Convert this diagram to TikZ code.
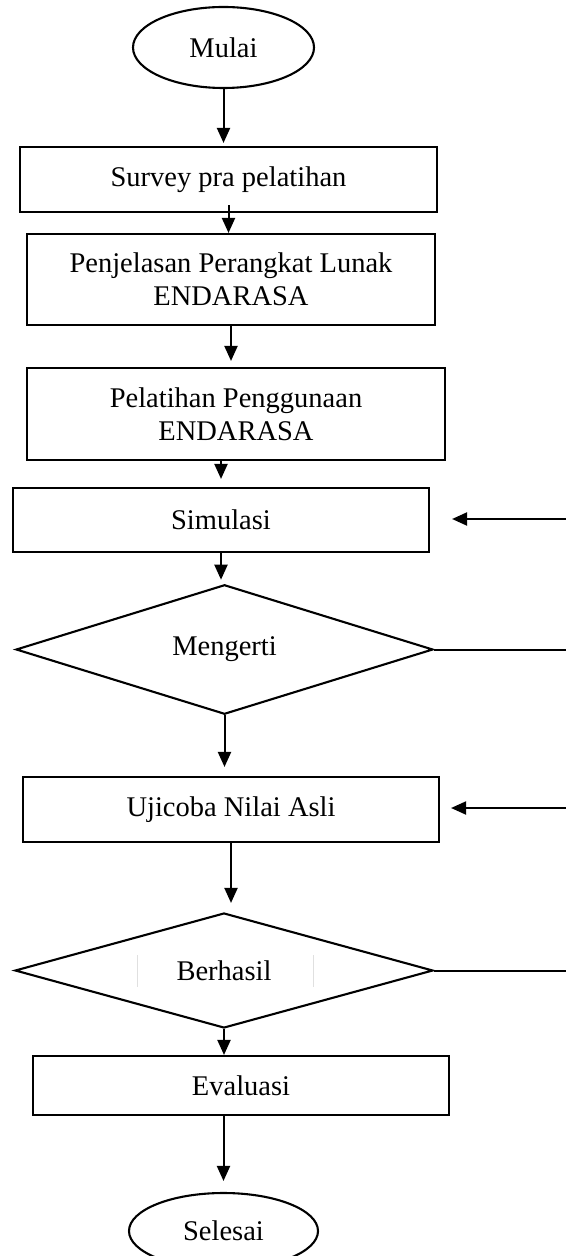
\documentclass[tikz,border=0pt]{standalone}
\usepackage{fontspec}
\setmainfont{Liberation Serif}
\usetikzlibrary{shapes.geometric,arrows.meta}

\tikzset{
  proses/.style={draw, line width=1.05pt, inner sep=2pt, align=center, font=\fontsize{14.25}{16.5}\selectfont},
  ujung/.style={draw, ellipse, line width=1.05pt, inner sep=0pt, font=\fontsize{14.25}{16.5}\selectfont},
  keputusan/.style={draw, diamond, line width=1.05pt, inner sep=0pt, font=\fontsize{14.25}{16.5}\selectfont},
  panah/.style={line width=1pt, -{Triangle[width=6.5pt,length=7.5pt]}},
  garis/.style={line width=1pt}
}

\begin{document}
\begin{tikzpicture}[x=0.5pt,y=-0.5pt]
  \useasboundingbox (0,0) rectangle (566,1256);
  \node[ujung, minimum width=90.5pt, minimum height=40.5pt] (mulai) at (223.5,47.5) {Mulai};
  \node[proses, minimum width=208.5pt, minimum height=32.5pt] (survey) at (228.5,179.5) {Survey pra pelatihan};
  \node[proses, minimum width=204pt, minimum height=45.5pt] (penjelasan) at (231,279.5) {Penjelasan Perangkat Lunak\\ENDARASA};
  \node[proses, minimum width=209pt, minimum height=46pt] (pelatihan) at (236,414) {Pelatihan Penggunaan\\ENDARASA};
  \node[proses, minimum width=208pt, minimum height=32pt] (simulasi) at (221,520) {Simulasi};
  \node[keputusan, minimum width=208.5pt, minimum height=52.5pt] (mengerti) at (224.5,649.5) {Mengerti};
  \node[proses, minimum width=208pt, minimum height=32.5pt] (ujicoba) at (231,809.5) {Ujicoba Nilai Asli};
  \node[keputusan, minimum width=209pt, minimum height=52.5pt] (berhasil) at (224,970.5) {Berhasil};
  \node[proses, minimum width=208pt, minimum height=29.5pt] (evaluasi) at (241,1085.5) {Evaluasi};
  \node[ujung, minimum width=94.5pt, minimum height=38pt] (selesai) at (223.5,1231) {Selesai};

  \coordinate (kanan1) at (566,519);
  \coordinate (kanan2) at (566,649.5);
  \coordinate (kanan3) at (566,808);
  \coordinate (kanan4) at (566,970.5);

  \draw[panah, shorten >=1.5pt] (mulai.south) -- (mulai.south |- survey.north);
  \draw[panah] ([yshift=4pt]survey.south) -- (survey.south |- penjelasan.north);
  \draw[panah, shorten >=3pt] (penjelasan.south) -- (penjelasan.south |- pelatihan.north);
  \draw[panah, shorten >=4pt] (simulasi.north |- pelatihan.south) -- (simulasi.north);
  \draw[panah, shorten >=2pt] (simulasi.south) -- (simulasi.south |- mengerti.north);
  \draw[panah, shorten >=4.5pt] (mengerti.south) -- (mengerti.south |- ujicoba.north);
  \draw[panah, shorten >=4.5pt] (ujicoba.south) -- (ujicoba.south |- berhasil.north);
  \draw[panah] (berhasil.south) -- (berhasil.south |- evaluasi.north);
  \draw[panah, shorten >=5.5pt] (selesai.north |- evaluasi.south) -- (selesai.north);

  \draw[panah, shorten >=11pt] (kanan1) -- (simulasi.east |- kanan1);
  \draw[garis] (mengerti.east) -- (kanan2);
  \draw[panah, shorten >=5.5pt] (kanan3) -- (ujicoba.east |- kanan3);
  \draw[garis] (berhasil.east) -- (kanan4);

  \draw[black!12, line width=0.4pt] (137,955) -- (137,987);
  \draw[black!12, line width=0.4pt] (313,955) -- (313,987);
\end{tikzpicture}
\end{document}
